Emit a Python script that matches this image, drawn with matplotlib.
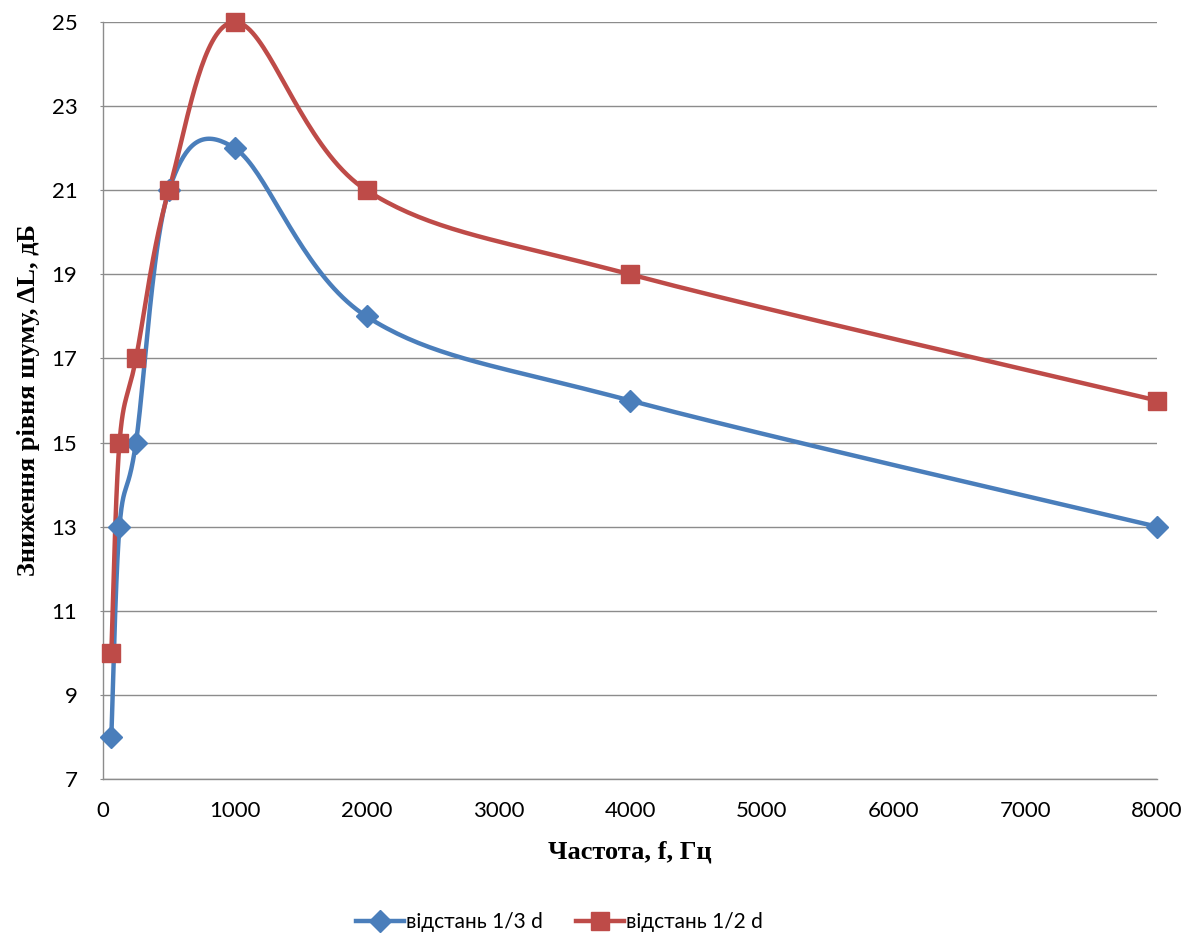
import numpy as np
import matplotlib.pyplot as plt
from matplotlib.lines import Line2D

# data
freq = [63, 125, 250, 500, 1000, 2000, 4000, 8000]
dl_third = [8, 13, 15, 21, 22, 18, 16, 13]
dl_half = [10, 15, 17, 21, 25, 21, 19, 16]
xticks = [0, 1000, 2000, 3000, 4000, 5000, 6000, 7000, 8000]
yticks = [7, 9, 11, 13, 15, 17, 19, 21, 23, 25]

BLUE = '#4a7ebb'
RED = '#be4b48'
GRID = '#8c8c8c'

fig = plt.figure(figsize=(11.91, 9.42), dpi=100)
ax = fig.add_axes([0.0865, 0.173, 0.885, 0.8036])
ax.set_xlim(0, 8000)
ax.set_ylim(7, 25)


def smooth(x, y, n=40):
    # excel-like bezier smoothing done in pixel space
    T = ax.transData
    p = T.transform(np.column_stack([x, y]))
    p = np.vstack([p[0], p, p[-1]])
    out = []
    for i in range(1, len(p) - 2):
        p0, p1, p2, p3 = p[i - 1], p[i], p[i + 1], p[i + 2]
        c1 = p1 + (p2 - p0) / 6.0
        c2 = p2 - (p3 - p1) / 6.0
        t = np.linspace(0, 1, n)[:, None]
        seg = ((1 - t) ** 3) * p1 + 3 * ((1 - t) ** 2) * t * c1 \
            + 3 * (1 - t) * t ** 2 * c2 + t ** 3 * p2
        out.append(seg if i == 1 else seg[1:])
    out = np.vstack(out)
    d = T.inverted().transform(out)
    return d[:, 0], d[:, 1]


for yy, c, m, ms in [(dl_third, BLUE, 'D', 11), (dl_half, RED, 's', 13)]:
    sx, sy = smooth(freq, yy)
    ax.plot(sx, sy, color=c, lw=3.2, solid_capstyle='round', zorder=3, clip_on=False)
    ax.plot(freq, yy, ls='none', marker=m, ms=ms, color=c, zorder=4, clip_on=False)

ax.set_xticks(xticks)
ax.set_yticks(yticks)
ax.yaxis.grid(True, color=GRID, lw=1)
ax.set_axisbelow(True)
for s in ['top', 'right']:
    ax.spines[s].set_visible(False)
for s in ['left', 'bottom']:
    ax.spines[s].set_color(GRID)
    ax.spines[s].set_linewidth(1)
ax.tick_params(axis='y', length=2.5, color=GRID, labelsize=16, pad=16)
ax.tick_params(axis='x', length=0, labelsize=16, pad=16)
for lab in ax.get_xticklabels() + ax.get_yticklabels():
    lab.set_family('Lato')

ax.set_xlabel('Частота, f, Гц', family='Liberation Serif', fontweight='bold',
              fontsize=19, labelpad=14)
ax.set_ylabel('Зниження рівня шуму, ΔL, дБ', family='Liberation Serif',
              fontweight='bold', fontsize=19, labelpad=8)

handles = [Line2D([], [], color=BLUE, lw=3.2, marker='D', ms=11),
           Line2D([], [], color=RED, lw=3.2, marker='s', ms=13)]
fig.legend(handles, ['відстань 1/3 d', 'відстань 1/2 d'], loc='center',
           bbox_to_anchor=(0.47, 0.021), ncol=2, frameon=False,
           prop={'family': 'Lato', 'size': 15}, handlelength=2.3,
           columnspacing=1.6, handletextpad=0.1)

fig.savefig('out.png', dpi=100)
